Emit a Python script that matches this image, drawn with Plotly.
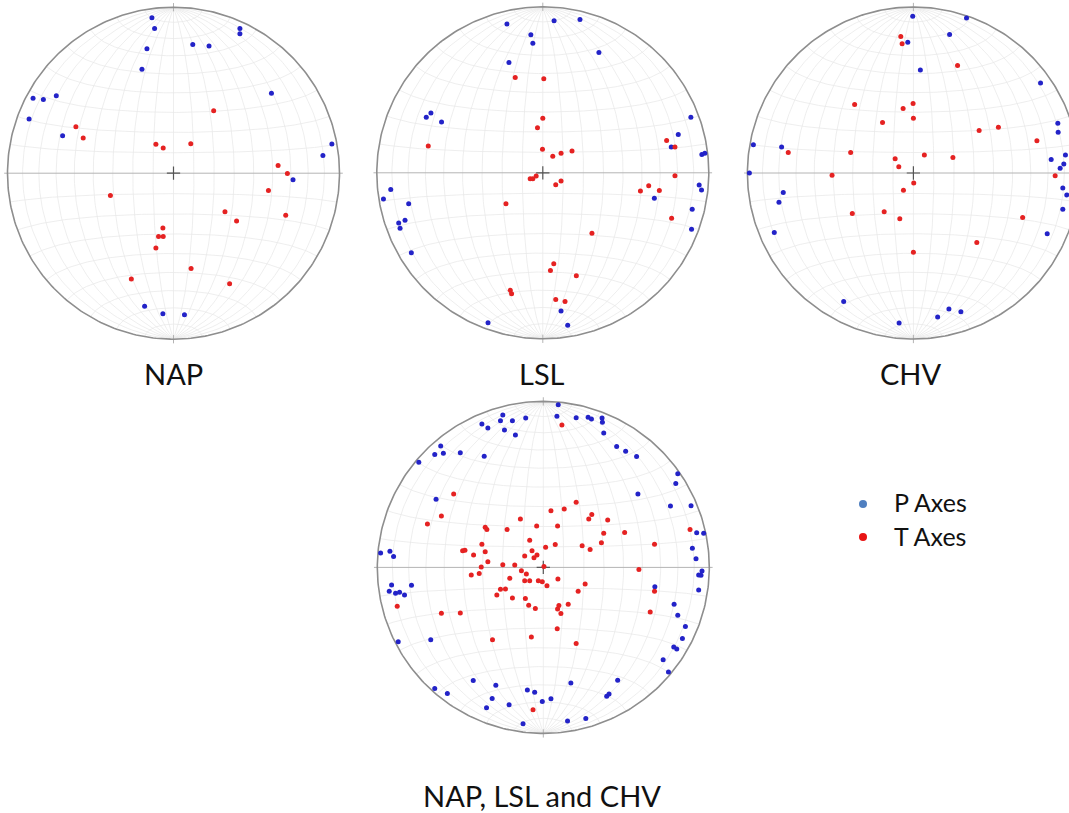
import numpy as np
import plotly.graph_objects as go

W, H = 1069, 813

# Positions of P and T axes on a lower-hemisphere equal-area (Schmidt) net,
# given as net coordinates in % of the primitive radius (east = +, north = +).
NAP_P_E = [-13, -11.4, 40, 40, 11.6, 21.4, -16, -19, 59, -84.6, -78.4, -70.6, -87, -66.8, 95.4, 90, 72, -17.4, -6.4, 6.6]
NAP_P_N = [93.6, 87.2, 87.2, 84, 77.6, 76.6, 75, 62.6, 48.2, 45.2, 44.4, 46.6, 32.6, 22.6, 17.6, 10.6, -4, -80.2, -84.6, -85.2]
NAP_T_E = [24.2, -58.8, -54.4, -10.6, -6.2, 10.4, 63, 68.6, 57.2, -38, 31, 38, 67.6, -6.4, -9, -6.2, -10.6, 10.6, -25.4, 33.8]
NAP_T_N = [37.6, 28, 21.2, 17.4, 15.2, 17.8, 4.6, -0.2, -10.4, -13.4, -23.2, -28.8, -25.4, -33, -38.2, -38.2, -45, -57.4, -63.8, -66.6]

LSL_P_E = [-21.6, 6.8, 22.4, -7.2, -6, 33.8, -20.4, -70.2, -67.4, -61, 89.2, 81.6, 77.4, 95.8, 97.6, -91.6, -96, -80.8, -83, -86.8,
           -86, 94.2, 95.6, 67.2, 90, 89.6, -79.2, 11, -33, 15]
LSL_P_N = [89.6, 91.6, 92.4, 83.2, 78, 72.4, 66.4, 33.4, 36, 30.6, 33.4, 23, 15.6, 11, 11.8, -10, -15.8, -18.6, -28.6, -30.2,
           -33.4, -7.4, -10.4, -15.4, -22, -34, -48.2, -83.2, -90.4, -91.8]
LSL_T_E = [-16.6, 0.6, 0, -3.2, -69, -0.2, 6, 11, 17.6, 74.6, 79.6, 79.6, -7.6, -6, -4, 7.8, 11, 58.8, 63.8, 70.2,
           -22.2, 77.6, 29.6, 6.6, 4.6, 20.2, -19.6, -18.8, 7.8, 13.4]
LSL_T_N = [57.4, 56.6, 32.8, 27.2, 16.2, 14.2, 10, 11.8, 13.2, 19.4, 15.6, -1.8, -3.6, -3.6, -2, -7.2, -5, -11, -7.8, -10.6,
           -18.6, -27.4, -36.4, -54.8, -58.8, -62, -70.8, -72.8, -76.4, -77.6]

CHV_P_E = [-0.4, 32, 21.8, -3.4, 4.2, 76.6, 87, 87.2, -96.4, -79.4, 83, 91.6, 90.6, 88.4, -98.8, -78.4, 90, 92.4, -81, 90,
           -83.8, 80.6, -42, 21.4, 28.6, 14.6, -8.6]
CHV_P_N = [94.4, 93.4, 83.4, 78.8, 62, 54.2, 30, 24.6, 17, 15.6, 8.2, 10.8, 5.4, 2.8, 0, -11.8, -9, -13.2, -17.6, -21.8,
           -35.8, -36.6, -77.4, -82, -83.6, -86.8, -90.4]
CHV_T_E = [-7.6, -6.8, 26.6, -35.4, -0.2, -6.2, 0, -18.6, 39.6, 51.2, 74.4, -75.4, -37.8, -11, 6.6, 23.8, -8.8, -49, 85.4, 0.2,
           -6, -36.8, -17.6, -8.2, 65.8, 38.2, 0]
CHV_T_N = [82.2, 77.8, 64.8, 41.2, 41.8, 38.8, 33, 30.4, 25.6, 27.6, 19.4, 12.4, 12.4, 8.6, 10.8, 9.4, 3.8, -1.4, -1.6, -6,
           -10.4, -24.4, -23.4, -27.6, -26.8, -41.8, -47.8]

ALL_P_E = [9, -24.4, 8.2, 19.8, 27, 29, 35.4, -37, -25.8, -18.6, -10.6, -33.4, -23.4, 35.6, -16.8, 36.4, -61.8, -65.4, -60.2, -50,
           -35.6, -75, 44.2, 49.6, 56.2, 81, 79.8, 57, -64.6, 76.6, 89, 92.4, 96.6, 89.8, 92, -98, -92.4, -90.2, 95.6, 93.6,
           95, 93.6, -91.4, -92.8, -89, -86.6, -83.6, -79.4, 67.2, 78.8, 81, 85.6, 83.8, 78.6, 80.4, -87.4, -67.8, 72.2, 75.4, -42.2,
           -28.6, -65.4, -57.8, 44.8, 16.6, -9.6, -5.2, -30.8, -0.6, 4.6, 38.2, 39.6, -34.2, -20.6, -12.2, 14.6, 25.6]
ALL_P_N = [98, 91.8, 91, 90.2, 90.4, 89.4, 90, 86.4, 88.4, 88.4, 90, 84, 82.8, 87.4, 79.8, 81, 73.2, 68, 68.8, 69,
           67, 63.4, 72.8, 70, 66.8, 56.4, 50.6, 44.2, 41, 37, 37.2, 20.8, 20.6, 11.6, 5.2, 8.6, 9.8, 6.6, -2.2, -4.6,
           -4.8, -13.6, -10.6, -14.4, -15.6, -15, -16.6, -10.8, -11.6, -22.2, -28.8, -35.6, -42.8, -48, -49.2, -44.8, -43.6, -55.6, -63, -68.2,
           -71, -73, -76, -68, -69.6, -73.8, -75.2, -79, -80.8, -79.2, -77.6, -76.2, -84.6, -82.8, -94.2, -92.6, -91]
ALL_T_E = [11.2, -54, 19.8, -61.4, -69.8, 4.6, 12.6, 29.2, 27.4, 38.8, 49, 88.4, -13.8, -4, 8.6, 36.4, -35, -34, -21.8, -8.2,
           7.2, 1.4, 23.4, 28.2, 35, 67, -37, -48.6, -47.2, -42, -35, -11.2, -6.8, -3.8, -5.6, -33.4, -37.4, -24.4, -17.2, -13.2,
           -10.2, 0.4, 57.6, -43.4, -38.6, -20.2, -11.2, -8.2, -3, -0.6, 2.2, 8.8, 25.2, 21, -25.8, -22.8, -28, -18.6, -10.8, -8.8,
           -4.8, 9.4, 15, 8.6, 10.6, 67, -88, -61.4, -50, 64.4, 8.4, -7.2, -30.6, 19.8, -6.2]
ALL_T_N = [85.8, 44.2, 39.2, 31, 26.2, 34.2, 35.2, 31.8, 29.2, 28.6, 21, 22.8, 29.2, 25, 25, 20.6, 24.2, 22.8, 22.8, 16.4,
           13.8, 12.2, 13, 10.8, 14.8, 14, 14, 10, 10.4, 7.4, 9.4, 6.8, 10, 7.4, 5.8, 3.4, 0.2, 1.6, 1.4, -2,
           -4, 0.6, -1.2, -4.6, -3.6, -6.6, -8, -8, -8, -8.6, -11, -7, -10, -14.4, -13.2, -13, -16.6, -18.4, -18.8, -22.8,
           -24.8, -23, -22.2, -25, -27.8, -14.4, -23.4, -27.6, -27.4, -26.8, -37, -42, -43.6, -45.8, -85.8]

PANEL_TITLES = ["NAP", "LSL", "CHV", "NAP, LSL and CHV"]
LEGEND_LABELS = ["P Axes", "T Axes"]

panels = [
    dict(name="NAP", c=(173.5, 173.2), p=(NAP_P_E, NAP_P_N), t=(NAP_T_E, NAP_T_N)),
    dict(name="LSL", c=(542.8, 172.8), p=(LSL_P_E, LSL_P_N), t=(LSL_T_E, LSL_T_N)),
    dict(name="CHV", c=(913.4, 173.0), p=(CHV_P_E, CHV_P_N), t=(CHV_T_E, CHV_T_N)),
    dict(name="ALL", c=(543.3, 567.4), p=(ALL_P_E, ALL_P_N), t=(ALL_T_E, ALL_T_N)),
]
title_pos = [(173, 373), (542, 373), (911, 373), (542, 795)]

R_PX = 166.0
SCALE = R_PX / 100.0
HALF = 172.0

P_COLOR = "#2323c8"
T_COLOR = "#e52222"
GRID = "#e8e8e8"


def net_grid(step=10, n=121):
    xs, ys = [], []
    a = np.radians(np.linspace(0, 180, n))
    for d in range(step, 180, step):
        dr = np.radians(d)
        e = np.sin(a) * np.cos(dr)
        nn = np.cos(a)
        dn = np.sin(a) * np.sin(dr)
        s = 100 / np.sqrt(1 + dn)
        xs += list(e * s) + [None]
        ys += list(nn * s) + [None]
    for c in range(step, 180, step):
        if c == 90:
            continue
        cr = np.radians(c)
        e = np.sin(cr) * np.cos(a)
        nn = np.full_like(a, np.cos(cr))
        dn = np.sin(cr) * np.sin(a)
        s = 100 / np.sqrt(1 + dn)
        xs += list(e * s) + [None]
        ys += list(nn * s) + [None]
    return xs, ys


gx, gy = net_grid()
th = np.radians(np.linspace(0, 360, 361))
cx_, cy_ = list(100 * np.sin(th)), list(100 * np.cos(th))

fig = go.Figure()
layout_axes = {}

for i, pn in enumerate(panels):
    k = "" if i == 0 else str(i + 1)
    xa, ya = "x" + k, "y" + k
    cx, cy = pn["c"]
    x0, x1 = max(cx - HALF, 0), min(cx + HALF, W)
    cyb = H - cy
    y0, y1 = max(cyb - HALF, 0), min(cyb + HALF, H)
    layout_axes["xaxis" + k] = dict(domain=[x0 / W, x1 / W], range=[(x0 - cx) / SCALE, (x1 - cx) / SCALE],
                                    visible=False, fixedrange=True, anchor=ya)
    layout_axes["yaxis" + k] = dict(domain=[y0 / H, y1 / H], range=[(y0 - cyb) / SCALE, (y1 - cyb) / SCALE],
                                    visible=False, fixedrange=True, anchor=xa)
    # grid
    fig.add_trace(go.Scatter(x=gx, y=gy, mode="lines", line=dict(color=GRID, width=0.75),
                             hoverinfo="skip", showlegend=False, xaxis=xa, yaxis=ya))
    # E-W line and N/S ticks
    fig.add_trace(go.Scatter(x=[-102, 102, None, 0, 0, None, 0, 0], y=[0, 0, None, 97.5, 102.5, None, -97.5, -102.5],
                             mode="lines", line=dict(color="#b4b4b4", width=1),
                             hoverinfo="skip", showlegend=False, xaxis=xa, yaxis=ya))
    # primitive circle
    fig.add_trace(go.Scatter(x=cx_, y=cy_, mode="lines", line=dict(color="#8e8e8e", width=1.6),
                             hoverinfo="skip", showlegend=False, xaxis=xa, yaxis=ya))
    # centre cross
    fig.add_trace(go.Scatter(x=[-4, 4, None, 0, 0], y=[0, 0, None, -4, 4], mode="lines",
                             line=dict(color="#555555", width=1.2),
                             hoverinfo="skip", showlegend=False, xaxis=xa, yaxis=ya))
    fig.add_trace(go.Scatter(x=pn["p"][0], y=pn["p"][1], mode="markers", name="P Axes",
                             marker=dict(color=P_COLOR, size=5, line=dict(width=0)),
                             showlegend=False, xaxis=xa, yaxis=ya))
    fig.add_trace(go.Scatter(x=pn["t"][0], y=pn["t"][1], mode="markers", name="T Axes",
                             marker=dict(color=T_COLOR, size=5, line=dict(width=0)),
                             showlegend=False, xaxis=xa, yaxis=ya))

# legend on an overlay pixel-space axis
layout_axes["xaxis5"] = dict(domain=[0, 1], range=[0, W], visible=False, fixedrange=True, anchor="y5")
layout_axes["yaxis5"] = dict(domain=[0, 1], range=[H, 0], visible=False, fixedrange=True, anchor="x5")
fig.add_trace(go.Scatter(x=[863, 863], y=[504, 537], mode="markers",
                         marker=dict(color=["#4f7fc0", "#e81414"], size=8, line=dict(width=0)),
                         hoverinfo="skip", showlegend=False, xaxis="x5", yaxis="y5"))

annotations = []
for txt, (px, py) in zip(PANEL_TITLES, title_pos):
    annotations.append(dict(text=txt, x=px / W, y=1 - py / H, xref="paper", yref="paper",
                            xanchor="center", yanchor="middle", showarrow=False,
                            font=dict(family="Lato, Carlito, sans-serif", size=29, color="#111111")))
for txt, py in zip(LEGEND_LABELS, [502, 536]):
    annotations.append(dict(text=txt, x=892 / W, y=1 - py / H, xref="paper", yref="paper",
                            xanchor="left", yanchor="middle", showarrow=False,
                            font=dict(family="Lato, Carlito, sans-serif", size=25, color="#111111")))

fig.update_layout(width=W, height=H, margin=dict(l=0, r=0, t=0, b=0),
                  paper_bgcolor="white", plot_bgcolor="rgba(0,0,0,0)",
                  showlegend=False, annotations=annotations, **layout_axes)

fig.write_html("out.html", config={"displayModeBar": False},
               post_script="document.body.style.margin='0px';document.body.style.overflow='hidden';")
